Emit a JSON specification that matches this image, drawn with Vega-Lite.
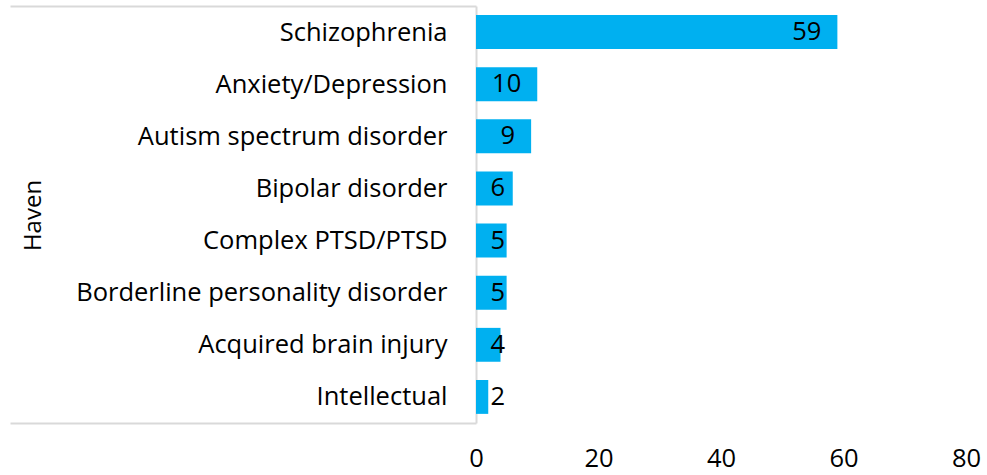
{
  "$schema": "https://vega.github.io/schema/vega-lite/v6.json",
  "width": 490,
  "height": 417,
  "autosize": {"type": "none"},
  "padding": {"left": 476, "top": 6, "right": 21, "bottom": 52},
  "background": "white",
  "config": {
    "view": {"stroke": null},
    "font": "Open Sans",
    "axis": {"labelFont": "Open Sans", "titleFont": "Open Sans"}
  },
  "data": {
    "values": [
      {"condition": "Schizophrenia", "count": 59},
      {"condition": "Anxiety/Depression", "count": 10},
      {"condition": "Autism spectrum disorder", "count": 9},
      {"condition": "Bipolar disorder", "count": 6},
      {"condition": "Complex PTSD/PTSD", "count": 5},
      {"condition": "Borderline personality disorder", "count": 5},
      {"condition": "Acquired brain injury", "count": 4},
      {"condition": "Intellectual", "count": 2}
    ]
  },
  "encoding": {
    "y": {
      "field": "condition",
      "type": "nominal",
      "sort": null,
      "scale": {"paddingInner": 0, "paddingOuter": 0},
      "axis": {
        "title": "Haven",
        "titleFontSize": 24,
        "titleFontWeight": "normal",
        "titleColor": "#000000",
        "titleX": -443,
        "titleY": 209,
        "titleAngle": -90,
        "titleAlign": "center",
        "titleBaseline": "middle",
        "labelFontSize": 25.5,
        "labelColor": "#000000",
        "labelPadding": -437,
        "labelLimit": 0,
        "domainColor": "#d9d9d9",
        "domainWidth": 2,
        "tickBand": "extent",
        "tickSize": 466,
        "tickColor": "#d9d9d9",
        "tickWidth": 2,
        "tickOpacity": {"condition": {"test": "datum.extra || datum.value === 'Intellectual'", "value": 1}, "value": 0}
      }
    }
  },
  "layer": [
    {
      "mark": {"type": "bar", "color": "#00B0F0", "height": {"band": 0.65}},
      "encoding": {
        "x": {
          "field": "count",
          "type": "quantitative",
          "scale": {"domain": [0, 80], "nice": false},
          "axis": {
            "title": null,
            "values": [0, 20, 40, 60, 80],
            "grid": false,
            "domain": false,
            "ticks": false,
            "labelFontSize": 25.5,
            "labelColor": "#000000",
            "labelPadding": 23,
            "labelFlush": false
          }
        }
      }
    },
    {
      "transform": [{"calculate": "max(datum.count, 7.35)", "as": "labelX"}],
      "mark": {"type": "text", "align": "right", "baseline": "middle", "dx": -16, "fontSize": 25.5, "color": "#000000", "font": "Open Sans"},
      "encoding": {
        "x": {"field": "labelX", "type": "quantitative"},
        "text": {"field": "count", "type": "quantitative"}
      }
    }
  ]
}
